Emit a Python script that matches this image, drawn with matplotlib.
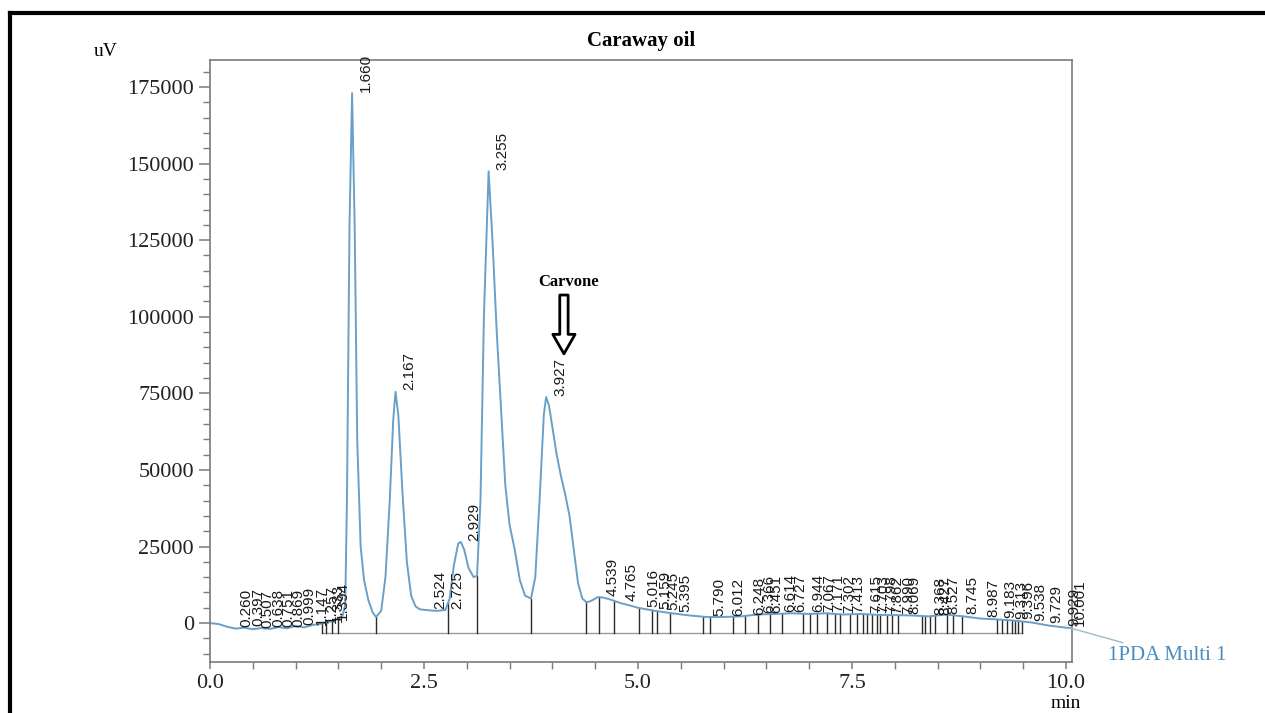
import numpy as np
import matplotlib
matplotlib.use("Agg")
import matplotlib.pyplot as plt
from matplotlib.lines import Line2D
from matplotlib.ticker import MultipleLocator

# chromatogram trace (time in min, signal in uV)
t = [0.00, 0.10, 0.20, 0.30, 0.40, 0.50, 0.60, 0.70, 0.80, 0.90, 1.00, 1.10, 1.20,
     1.30, 1.40, 1.50, 1.55, 1.58, 1.60, 1.63, 1.66, 1.69, 1.72, 1.76, 1.80, 1.85,
     1.90, 1.94, 2.00, 2.05, 2.10, 2.14, 2.167, 2.20, 2.25, 2.30, 2.35, 2.40, 2.45,
     2.55, 2.65, 2.75, 2.80, 2.85, 2.90, 2.93, 2.97, 3.02, 3.08, 3.12, 3.16, 3.20,
     3.255, 3.30, 3.35, 3.40, 3.45, 3.50, 3.56, 3.62, 3.68, 3.75, 3.80, 3.85, 3.90,
     3.927, 3.96, 4.00, 4.05, 4.10, 4.15, 4.20, 4.25, 4.30, 4.35, 4.40, 4.45, 4.53,
     4.60, 4.70, 4.80, 4.90, 5.00, 5.20, 5.40, 5.60, 5.80, 6.00, 6.20, 6.40, 6.60,
     6.80, 7.00, 7.20, 7.40, 7.60, 7.80, 8.00, 8.20, 8.40, 8.60, 8.80, 9.00, 9.20,
     9.40, 9.60, 9.80, 10.00, 10.05]
uv = [0, -300, -1200, -1800, -1500, -2000, -1600, -1900, -1300, -1700, -900, -1400, -600,
      -200, 500, 1500, 2500, 6000, 40000, 130000, 173000, 130000, 60000, 25000, 14000, 7500,
      3500, 2000, 4000, 15000, 40000, 66000, 75500, 68000, 42000, 20000, 9000, 5500, 4500,
      4200, 4000, 4300, 8000, 19000, 26000, 26500, 24000, 18000, 15000, 15500, 40000, 100000,
      147500, 125000, 95000, 70000, 45000, 32000, 24000, 14000, 9000, 8000, 15000, 40000, 68000,
      73800, 71000, 64000, 55000, 48000, 42000, 35000, 24000, 13000, 8000, 6800, 7200, 8500,
      8300, 7500, 6500, 5800, 5000, 4000, 3200, 2500, 2000, 2000, 2200, 2800, 3000,
      3200, 3000, 3200, 2800, 3000, 2700, 2600, 2500, 2200, 2800, 2200, 1500, 1200,
      800, 200, -800, -1500, -1600]

# peak retention times printed on the chart
peak_t = [0.260, 0.397, 0.507, 0.638, 0.751, 0.869, 0.999, 1.147, 1.257, 1.333, 1.394,
          1.660, 2.167, 2.524, 2.725, 2.929, 3.255, 3.927, 4.539, 4.765,
          5.016, 5.159, 5.245, 5.395, 5.790, 6.012, 6.248, 6.366, 6.451, 6.614, 6.727,
          6.944, 7.067, 7.171, 7.302, 7.413, 7.615, 7.703, 7.798, 7.862, 7.990, 8.069,
          8.368, 8.427, 8.527, 8.745, 8.987, 9.183, 9.313, 9.396, 9.538, 9.729, 9.929, 10.001]

# integration drop lines (min)
drop_t = [1.31, 1.36, 1.43, 1.50, 1.94, 2.78, 3.12, 3.75, 4.39, 4.54, 4.72, 5.01, 5.16,
          5.22, 5.37, 5.76, 5.84, 6.11, 6.25, 6.40, 6.54, 6.68, 6.93, 7.01, 7.09, 7.21,
          7.30, 7.36, 7.48, 7.56, 7.63, 7.68, 7.73, 7.79, 7.83, 7.91, 7.97, 8.04, 8.32,
          8.35, 8.41, 8.47, 8.61, 8.68, 8.79, 9.19, 9.25, 9.31, 9.37, 9.40, 9.44, 9.49]
baseline_uv = -3100

x_ticks = [0.0, 2.5, 5.0, 7.5, 10.0]
y_ticks = [0, 25000, 50000, 75000, 100000, 125000, 150000, 175000]

trace_col = '#6a9fc7'
serif = ['Liberation Serif', 'DejaVu Serif']
narrow = ['Liberation Sans Narrow', 'Liberation Sans', 'DejaVu Sans']

fig = plt.figure(figsize=(12.65, 7.13), dpi=100)
ax = fig.add_axes([0.166, 0.0715, 0.6814, 0.8443])

t = np.array(t)
uv = np.array(uv)

# baseline + drop lines
ax.plot([drop_t[0], drop_t[-1]], [baseline_uv, baseline_uv], color='#9a9a9a', lw=1)
for d in drop_t:
    ax.plot([d, d], [baseline_uv, np.interp(d, t, uv)], color='#2a2a2a', lw=1)

ax.plot(t, uv, color=trace_col, lw=1.4)

for p in peak_t:
    ax.annotate('%.3f' % p, xy=(p, np.interp(p, t, uv)), xytext=(5, 1),
                textcoords='offset points', rotation=90, ha='left', va='bottom',
                fontsize=11, family=narrow, color='#1a1a1a')

ax.set_xlim(0, 10.07)
ax.set_ylim(-12700, 183800)
ax.set_xticks(x_ticks)
ax.set_xticklabels(['%.1f' % v for v in x_ticks])
ax.set_yticks(y_ticks)
ax.set_yticklabels([str(v) for v in y_ticks])
ax.xaxis.set_minor_locator(MultipleLocator(0.5))
ax.yaxis.set_minor_locator(MultipleLocator(5000))
for s in ax.spines.values():
    s.set_color('#7a7a7a')
    s.set_linewidth(1.2)
ax.tick_params(which='major', direction='out', color='#7a7a7a', length=8, width=1.1,
               labelsize=16, labelcolor='#222222')
ax.tick_params(which='minor', direction='out', color='#7a7a7a', length=5, width=1)
ax.tick_params(axis='x', which='both', length=5)
for lab in ax.get_xticklabels() + ax.get_yticklabels():
    lab.set_family(serif)

ax.set_title('Caraway oil', fontsize=15, fontweight='bold', family=serif, pad=10)
fig.text(106 / 1265, 1 - 51 / 713, 'uV', fontsize=14, family=serif, ha='center', va='center')
fig.text(1066 / 1265, 1 - 704 / 713, 'min', fontsize=14, family=serif, ha='center', va='center')

# Carvone marker
ax.text(4.19, 111500, 'Carvone', fontsize=12, fontweight='bold', family=serif,
        ha='center', va='center')
ax.annotate('', xy=(4.135, 87000), xytext=(4.135, 108000),
            arrowprops=dict(arrowstyle='simple, head_width=1.6, head_length=1.4, tail_width=0.6',
                            fc='white', ec='black', lw=2))

# channel label with leader
ax.annotate('1PDA Multi 1', xy=(10.05, np.interp(10.05, t, uv)), xycoords='data',
            xytext=(1108 / 1265, 1 - 655 / 713), textcoords='figure fraction',
            fontsize=15, family=serif, color='#4a8cbc', va='center', ha='left',
            arrowprops=dict(arrowstyle='-', color='#9fb8c8', lw=1, shrinkA=0, shrinkB=0),
            annotation_clip=False)

# scan frame
fig.add_artist(Line2D([10 / 1265, 1], [1 - 13 / 713, 1 - 13 / 713], transform=fig.transFigure,
                      color='black', lw=3))
fig.add_artist(Line2D([10 / 1265, 10 / 1265], [0, 1 - 13 / 713], transform=fig.transFigure,
                      color='black', lw=3))

fig.savefig('out.png', dpi=100)
